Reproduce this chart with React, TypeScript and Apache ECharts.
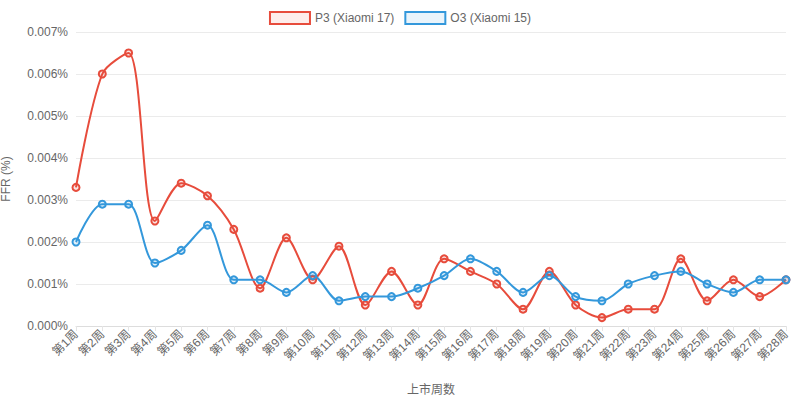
import { useEffect, useRef } from 'react';
import * as echarts from 'echarts';

const weeks = Array.from({ length: 28 }, (_, i) => `第${i + 1}周`);
const p3Values = [0.0033, 0.006, 0.0065, 0.0025, 0.0034, 0.0031, 0.0023, 0.0009, 0.0021, 0.0011, 0.0019, 0.0005, 0.0013, 0.0005, 0.0016, 0.0013, 0.001, 0.0004, 0.0013, 0.0005, 0.0002, 0.0004, 0.0004, 0.0016, 0.0006, 0.0011, 0.0007, 0.0011];
const o3Values = [0.002, 0.0029, 0.0029, 0.0015, 0.0018, 0.0024, 0.0011, 0.0011, 0.0008, 0.0012, 0.0006, 0.0007, 0.0007, 0.0009, 0.0012, 0.0016, 0.0013, 0.0008, 0.0012, 0.0007, 0.0006, 0.001, 0.0012, 0.0013, 0.001, 0.0008, 0.0011, 0.0011];

const RED = '#e74c3c';
const BLUE = '#3498db';
const FONT = '"Liberation Sans", Arial, "Noto Sans CJK SC", sans-serif';

function lineSeries(name: string, data: number[], color: string, fill: string) {
  return {
    name,
    type: 'line',
    data,
    smooth: 0.3,
    symbol: 'circle',
    symbolSize: 7,
    lineStyle: { color, width: 2 },
    itemStyle: { color: fill, borderColor: color, borderWidth: 2 },
  };
}

export default function App() {
  const ref = useRef<HTMLDivElement>(null);

  useEffect(() => {
    if (!ref.current) return;
    const chart = echarts.init(ref.current, null, { renderer: 'svg' });
    chart.setOption({
      animation: false,
      textStyle: { fontFamily: FONT },
      legend: {
        top: 6,
        itemWidth: 40,
        itemHeight: 12,
        itemGap: 10,
        textStyle: { color: '#666', fontSize: 12 },
        data: [
          { name: 'P3 (Xiaomi 17)', icon: 'rect', itemStyle: { color: 'rgba(231,76,60,0.1)', borderColor: RED, borderWidth: 2 } },
          { name: 'O3 (Xiaomi 15)', icon: 'rect', itemStyle: { color: 'rgba(52,152,219,0.1)', borderColor: BLUE, borderWidth: 2 } },
        ],
      },
      grid: { left: 76, right: 14, top: 32, bottom: 75, outerBoundsMode: 'none' },
      xAxis: {
        type: 'category',
        data: weeks,
        boundaryGap: false,
        name: '上市周数',
        nameLocation: 'middle',
        nameGap: 58,
        nameTextStyle: { color: '#666', fontSize: 12 },
        axisLine: { lineStyle: { color: '#ddd' } },
        axisTick: { show: true, lineStyle: { color: '#e5e5e5' } },
        axisLabel: { color: '#666', fontSize: 12, rotate: 45, interval: 0, margin: 6 },
        splitLine: { show: false },
      },
      yAxis: {
        type: 'value',
        min: 0,
        max: 0.007,
        interval: 0.001,
        name: 'FFR (%)',
        nameLocation: 'middle',
        nameGap: 64,
        nameTextStyle: { color: '#666', fontSize: 12 },
        axisLine: { show: false },
        axisLabel: { color: '#666', fontSize: 12, formatter: (v: number) => v.toFixed(3) + '%' },
        splitLine: { lineStyle: { color: '#ebebeb' } },
      },
      series: [
        lineSeries('P3 (Xiaomi 17)', p3Values, RED, 'rgba(231,76,60,0.15)'),
        lineSeries('O3 (Xiaomi 15)', o3Values, BLUE, 'rgba(52,152,219,0.15)'),
      ],
    });
    return () => chart.dispose();
  }, []);

  return <div ref={ref} style={{ position: 'fixed', left: 0, top: 0, width: 800, height: 401, background: '#fff' }} />;
}
